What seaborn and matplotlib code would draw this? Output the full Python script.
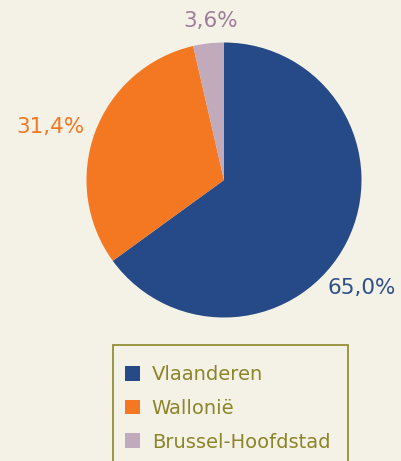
import matplotlib
matplotlib.use("Agg")
import matplotlib.pyplot as plt
from matplotlib.patches import Rectangle
import numpy as np
import seaborn as sns

# ── Data ──────────────────────────────────────────────────────────────────────
regions = ["Vlaanderen", "Wallonië", "Brussel-Hoofdstad"]
shares = [65.0, 31.4, 3.6]
share_labels = ["65,0%", "31,4%", "3,6%"]

# ── Style ─────────────────────────────────────────────────────────────────────
BG = "#F4F1E6"
SLICE_COLORS = ["#264A87", "#F47721", "#C2AABD"]
LABEL_COLORS = ["#2E4E88", "#F47721", "#9E7C9A"]
OLIVE = "#8C8529"

sns.set_theme(style="white")
plt.rcParams["font.family"] = ["DejaVu Sans"]

W, H, DPI = 401, 461, 100
fig = plt.figure(figsize=(W / DPI, H / DPI), dpi=DPI, facecolor=BG)
ax = fig.add_axes([0, 0, 1, 1])
ax.set_facecolor(BG)

wedges, _ = ax.pie(shares, colors=SLICE_COLORS, startangle=90, counterclock=False,
                   radius=1.0, wedgeprops=dict(linewidth=0))

# pie centre at (224, 180) px from top-left, radius 137.5 px
# (limits set after pie(), which resets them)
R_PX, CX, CY = 137.5, 224, 180
ax.set_xlim(-CX / R_PX, (W - CX) / R_PX)
ax.set_ylim(-(H - CY) / R_PX, CY / R_PX)
ax.set_aspect("equal", adjustable="datalim")
ax.axis("off")

# percentage labels: (angle offset from wedge mid in deg, radius)
label_pos = [(-11, 1.27), (3.5, 1.32), (-1.8, 1.16)]
for w, txt, col, (dang, rr) in zip(wedges, share_labels, LABEL_COLORS, label_pos):
    ang = np.deg2rad((w.theta1 + w.theta2) / 2 + dang)
    ax.text(rr * np.cos(ang), rr * np.sin(ang), txt, color=col, fontsize=15.5,
            ha="center", va="center")

# legend box (runs off the bottom edge like the original)
fig.patches.append(Rectangle((113 / W, -0.05), (348 - 113) / W, 1 - 345 / H + 0.05,
                             transform=fig.transFigure, facecolor="none",
                             edgecolor=OLIVE, linewidth=1.2))

leg = ax.legend(wedges, regions, loc="upper left",
                bbox_to_anchor=(125 / W, 1 - 365 / H), bbox_transform=fig.transFigure,
                frameon=False, fontsize=14, labelcolor=OLIVE,
                handlelength=0.78, handleheight=0.78, handletextpad=0.6,
                labelspacing=0.76, borderpad=0, borderaxespad=0)

fig.savefig("out.png", dpi=DPI, facecolor=BG)
